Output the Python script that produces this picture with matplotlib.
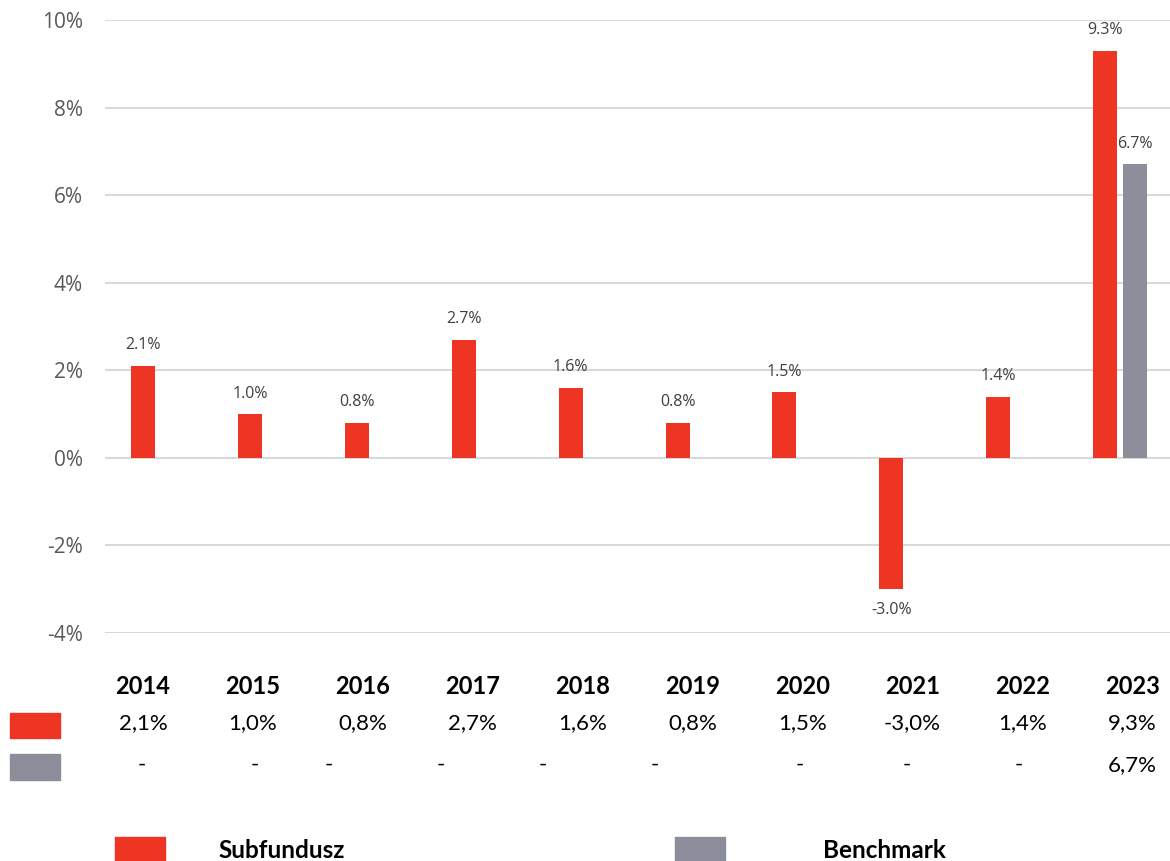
import numpy as np
import matplotlib
matplotlib.use("Agg")
import matplotlib.pyplot as plt
from matplotlib.patches import Rectangle

# data
years = ['2014', '2015', '2016', '2017', '2018', '2019', '2020', '2021', '2022', '2023']
fund = [2.1, 1.0, 0.8, 2.7, 1.6, 0.8, 1.5, -3.0, 1.4, 9.3]
bench = [None, None, None, None, None, None, None, None, None, 6.7]
fund_txt = ['2,1%', '1,0%', '0,8%', '2,7%', '1,6%', '0,8%', '1,5%', '-3,0%', '1,4%', '9,3%']
bench_txt = ['-', '-', '-', '-', '-', '-', '-', '-', '-', '6,7%']
yticks = [-4, -2, 0, 2, 4, 6, 8, 10]
series_names = ['Subfundusz', 'Benchmark']

RED = '#EE3524'
GREY = '#8C8F9B'
W, H = 1170, 861

fig = plt.figure(figsize=(W / 100, H / 100), dpi=100)
ax = fig.add_axes([105 / W, (H - 633) / H, (W - 105) / W, (633 - 20) / H])

x = np.arange(len(years))
bw = 0.225
off = 0.14
ax.bar(x - off, fund, bw, color=RED, zorder=3)
bx = [i for i, v in enumerate(bench) if v is not None]
bv = [v for v in bench if v is not None]
ax.bar(np.array(bx) + off, bv, bw, color=GREY, zorder=3)

# data labels
lab = dict(ha='center', fontsize=11.5, color='#404040', family='Open Sans', textcoords='offset points')
for i, v in enumerate(fund):
    if v >= 0:
        ax.annotate(f'{v:.1f}%', (i - off, v), xytext=(0, 9), va='bottom', **lab)
    else:
        ax.annotate(f'{v:.1f}%', (i - off, v), xytext=(0, -9), va='top', **lab)
for i, v in zip(bx, bv):
    ax.annotate(f'{v:.1f}%', (i + off, v), xytext=(0, 9), va='bottom', **lab)

ax.set_xlim(-0.5, 9.47)
ax.set_ylim(-4, 10)
ax.set_yticks(yticks)
ax.set_yticklabels([f'{t}%' for t in yticks], family='Open Sans', fontsize=15, color='#595959')
ax.set_xticks([])
ax.tick_params(axis='y', length=0, pad=16)
ax.grid(axis='y', color='#D9D9D9', linewidth=1.5, zorder=0)
for s in ax.spines.values():
    s.set_visible(False)


def px(xp, yp):
    return xp / W, 1 - yp / H


# table below the chart
col_x = [143 + 109.9 * i for i in range(len(years))]
dash_x = [142, 255, 329, 441, 543, 655, 800, 907, 1019, 1130]
for i, yr in enumerate(years):
    fig.text(*px(col_x[i], 687), yr, ha='center', va='center', fontsize=17,
             fontweight='bold', family='Lato', color='black')
    fig.text(*px(col_x[i], 723), fund_txt[i], ha='center', va='center', fontsize=16,
             family='Lato', color='black')
    bxp = dash_x[i] if bench_txt[i] == '-' else col_x[i]
    fig.text(*px(bxp, 765), bench_txt[i], ha='center', va='center', fontsize=16,
             family='Lato', color='black')

fig.patches.append(Rectangle(px(10, 738), 50 / W, 25 / H, transform=fig.transFigure, color=RED))
fig.patches.append(Rectangle(px(10, 780), 50 / W, 26 / H, transform=fig.transFigure, color=GREY))

# legend
fig.patches.append(Rectangle(px(115, 861), 50 / W, 24 / H, transform=fig.transFigure, color=RED))
fig.patches.append(Rectangle(px(675, 861), 50 / W, 24 / H, transform=fig.transFigure, color=GREY))
fig.text(*px(218, 850), series_names[0], ha='left', va='center', fontsize=17.5,
         fontweight='bold', family='Lato', color='black')
fig.text(*px(823, 850), series_names[1], ha='left', va='center', fontsize=17.5,
         fontweight='bold', family='Lato', color='black')

fig.savefig('out.png', dpi=100)
